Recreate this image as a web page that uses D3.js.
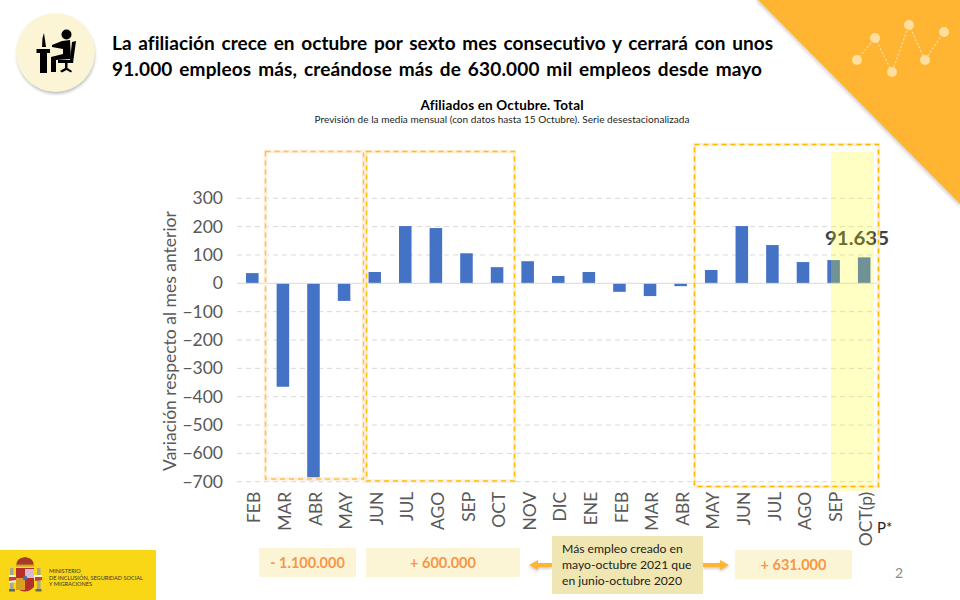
<!DOCTYPE html>
<html>
<head>
<meta charset="utf-8">
<script src="https://cdn.jsdelivr.net/npm/d3@7"></script>
<style>
html, body { margin: 0; padding: 0; background: #fff; }
svg { display: block; }
text { font-family: Lato, "Noto Sans", sans-serif; font-variant-ligatures: none; }
</style>
</head>
<body>
<script>
// chart data, thousands of jobs against previous month
var months = ["FEB","MAR","ABR","MAY","JUN","JUL","AGO","SEP","OCT","NOV","DIC","ENE","FEB","MAR","ABR","MAY","JUN","JUL","AGO","SEP","OCT(p)"];
var values = [36,-365,-695,-62,40,202,195,106,57,78,26,40,-30,-45,-10,47,202,135,75,82,91.635];
var yTicks = [300,200,100,0,-100,-200,-300,-400,-500,-600,-700];

var titleLines = [
    "La afiliación  crece en octubre por sexto mes consecutivo y cerrará con unos",
    "91.000 empleos más, creándose  más de 630.000 mil empleos desde mayo"
];
var noteLines = ["Más empleo creado en", "mayo-octubre 2021 que", "en  junio-octubre 2020"];
var logoLines = ["MINISTERIO", "DE INCLUSIÓN, SEGURIDAD SOCIAL", "Y MIGRACIONES"];
var decoPoints = [[857,60],[875,38],[892,72],[909,25],[925,60],[944,32]];

var width = 960, height = 600;
var margin = {top: 198.3, right: 80.5, bottom: 118.3, left: 237};

var svg = d3.select("body").append("svg")
    .attr("width", width)
    .attr("height", height);

var defs = svg.append("defs");
var blur = defs.append("filter").attr("id", "soft").attr("x", "-20%").attr("y", "-20%").attr("width", "140%").attr("height", "140%");
blur.append("feGaussianBlur").attr("stdDeviation", 1.6);

// top right corner
svg.append("path").attr("d", "M757,0 L960,205").attr("stroke", "#777").attr("stroke-width", 2).attr("opacity", 0.45).attr("filter", "url(#soft)");
svg.append("path").attr("d", "M758,0 L960,0 L960,204 Z").attr("fill", "#FFB531");
svg.append("path")
    .attr("d", d3.line()(decoPoints))
    .attr("fill", "none")
    .attr("stroke", "#FFE0A6")
    .attr("stroke-width", 1.2)
    .attr("stroke-dasharray", "2 2");
svg.selectAll(".deco").data(decoPoints).enter().append("circle")
    .attr("cx", function(d){ return d[0]; })
    .attr("cy", function(d){ return d[1]; })
    .attr("r", 5)
    .attr("fill", "#FFDF9F");

// round icon
svg.append("circle").attr("cx", 56).attr("cy", 55).attr("r", 39).attr("fill", "#888").attr("opacity", 0.55).attr("filter", "url(#soft)");
svg.append("circle").attr("cx", 55.5).attr("cy", 52.5).attr("r", 39.5).attr("fill", "#FBF5D6");
var icon = svg.append("g").attr("fill", "#000");
icon.append("circle").attr("cx", 66.5).attr("cy", 34.5).attr("r", 5);
icon.append("path").attr("d", "M62,41 L70,40 L71,59 L56,60 L56,72 L51,72 L51,57 L63,54 L63,49 L52,47 L52,45 Z");
icon.append("path").attr("d", "M72,42 L76,41 L73,63 L58,63 L58,60 L70,60 Z");
icon.append("path").attr("d", "M65,63 L67.5,63 L67.5,68 L72,71 L71,72.5 L66.5,70 L62,72.5 L60,71 L65,68 Z");
icon.append("path").attr("d", "M36.5,49 L50,49 L50,53 L47,53 L47,73 L40,73 L40,53 L36.5,53 Z");
icon.append("path").attr("d", "M44,33 L46,47 L42,47 L42.5,38 Z");

// title
svg.selectAll(".title").data(titleLines).enter().append("text")
    .attr("x", 112)
    .attr("y", function(d, i){ return 50 + i * 26; })
    .attr("textLength", function(d, i){ return i == 0 ? 661 : 650; })
    .attr("font-size", 19)
    .attr("font-weight", 700)
    .attr("word-spacing", 2)
    .attr("fill", "#000")
    .text(function(d){ return d; });

svg.append("text")
    .attr("x", 502).attr("y", 110)
    .attr("text-anchor", "middle")
    .attr("textLength", 163)
    .attr("font-size", 13.5)
    .attr("font-weight", 700)
    .attr("fill", "#000")
    .text("Afiliados en Octubre. Total");
svg.append("text")
    .attr("x", 502).attr("y", 123)
    .attr("text-anchor", "middle")
    .attr("textLength", 375)
    .attr("font-size", 10)
    .attr("fill", "#222")
    .text("Previsión de la media mensual (con datos hasta 15 Octubre). Serie desestacionalizada");

// set the ranges
var x = d3.scaleBand()
    .domain(d3.range(months.length))
    .range([margin.left, width - margin.right])
    .paddingInner(0.59)
    .paddingOuter(0.295);
var y = d3.scaleLinear()
    .domain([-700, 300])
    .range([height - margin.bottom, margin.top]);

// gridlines
svg.selectAll(".grid").data(yTicks.filter(function(d){ return d != 0; })).enter().append("line")
    .attr("x1", margin.left).attr("x2", width - margin.right)
    .attr("y1", function(d){ return y(d); })
    .attr("y2", function(d){ return y(d); })
    .attr("stroke", "#D9D9D9")
    .attr("stroke-width", 1)
    .attr("stroke-dasharray", "5 4");

// bars
svg.selectAll(".bar").data(values).enter().append("rect")
    .attr("x", function(d, i){ return x(i); })
    .attr("width", x.bandwidth())
    .attr("y", function(d){ return y(Math.max(d, 0)); })
    .attr("height", function(d){ return Math.abs(y(d) - y(0)); })
    .attr("fill", "#4472C4");

svg.append("line")
    .attr("x1", margin.left).attr("x2", width - margin.right)
    .attr("y1", y(0)).attr("y2", y(0))
    .attr("stroke", "#D9D9D9")
    .attr("stroke-width", 1);

// y axis labels
var yAxis = svg.append("g")
    .attr("transform", "translate(" + (margin.left + 1) + ",0)")
    .call(d3.axisLeft(y).tickValues(yTicks).tickSize(0).tickPadding(15).tickFormat(d3.format("d")));
yAxis.select(".domain").remove();
yAxis.selectAll("text")
    .attr("font-size", 17.5)
    .attr("font-family", "Lato, sans-serif")
    .attr("fill", "#595959");

svg.append("text")
    .attr("transform", "translate(176,341) rotate(-90)")
    .attr("text-anchor", "middle")
    .attr("font-size", 17.5)
    .attr("fill", "#595959")
    .text("Variación respecto al mes anterior");

// x axis labels
var xAxis = svg.append("g")
    .attr("transform", "translate(2," + (height - margin.bottom) + ")")
    .call(d3.axisBottom(x).tickSize(0).tickFormat(function(d){ return months[d]; }));
xAxis.select(".domain").remove();
xAxis.selectAll("text")
    .attr("transform", "rotate(-90)")
    .attr("x", -10)
    .attr("y", 0)
    .attr("dy", "0.35em")
    .attr("text-anchor", "end")
    .attr("font-size", 17.5)
    .attr("font-family", "Lato, sans-serif")
    .attr("fill", "#595959");

// value label sits under the highlight
svg.append("text")
    .attr("x", 857).attr("y", 245)
    .attr("text-anchor", "middle")
    .attr("textLength", 64)
    .attr("lengthAdjust", "spacingAndGlyphs")
    .attr("font-size", 19)
    .attr("font-weight", 700)
    .attr("fill", "#404040")
    .text("91.635");

// highlight over last months
svg.append("rect")
    .attr("x", 831).attr("y", 152)
    .attr("width", 43).attr("height", 339)
    .attr("fill", "#FFFF00")
    .attr("opacity", 0.23);

svg.append("text")
    .attr("x", 877).attr("y", 533)
    .attr("font-size", 15)
    .attr("fill", "#222")
    .text("P*");

// dashed boxes
function dashBox(bx, by, bw, bh, color, halo) {
    svg.append("rect").attr("x", bx).attr("y", by).attr("width", bw).attr("height", bh)
        .attr("fill", "none").attr("stroke", halo).attr("stroke-width", 3.5);
    svg.append("rect").attr("x", bx).attr("y", by).attr("width", bw).attr("height", bh)
        .attr("fill", "none").attr("stroke", color).attr("stroke-width", 1.5).attr("stroke-dasharray", "5 4");
}
dashBox(265.5, 151.5, 98, 327.5, "#FFC04D", "#FDF0E2");
dashBox(366.5, 151.5, 148, 329.5, "#FFC000", "#FDF0E2");
dashBox(694.5, 144.5, 184, 342, "#FFB800", "#FDF1D8");

// bottom labels
function valueBox(bx, by, bw, bh, label) {
    svg.append("rect").attr("x", bx).attr("y", by).attr("width", bw).attr("height", bh).attr("fill", "#FBF5D6");
    svg.append("text")
        .attr("x", bx + bw / 2).attr("y", by + bh / 2 + 5)
        .attr("text-anchor", "middle")
        .attr("font-size", 14.5)
        .attr("font-weight", 700)
        .attr("fill", "#F79646")
        .text(label);
}
valueBox(259, 548, 97, 29, "- 1.100.000");
valueBox(366, 548, 154, 29, "+ 600.000");
valueBox(735, 550, 117, 29, "+ 631.000");

// arrows around the note
function arrow(x1, x2, yy) {
    var dir = x2 > x1 ? 1 : -1;
    var d = "M" + x1 + "," + (yy - 2) + " L" + (x2 - dir * 9) + "," + (yy - 2) + " L" + (x2 - dir * 9) + "," + (yy - 5) +
        " L" + x2 + "," + yy + " L" + (x2 - dir * 9) + "," + (yy + 5) + " L" + (x2 - dir * 9) + "," + (yy + 2) + " L" + x1 + "," + (yy + 2) + " Z";
    svg.append("path").attr("d", d).attr("fill", "#888").attr("opacity", 0.5)
        .attr("transform", "translate(0,1.5)").attr("filter", "url(#soft)");
    svg.append("path").attr("d", d).attr("fill", "#FFB531");
}
arrow(552, 529, 565);
arrow(703, 729, 565);

svg.append("rect").attr("x", 552).attr("y", 536).attr("width", 151).attr("height", 58).attr("fill", "#F0E6B2");
svg.selectAll(".note").data(noteLines).enter().append("text")
    .attr("x", 562)
    .attr("y", function(d, i){ return 553 + i * 16; })
    .attr("font-size", 12.2)
    .attr("fill", "#222")
    .text(function(d){ return d; });

svg.append("text")
    .attr("x", 895).attr("y", 578)
    .attr("font-size", 14)
    .attr("fill", "#8C8C8C")
    .text("2");

// ministry logo
svg.append("rect").attr("x", 0).attr("y", 550).attr("width", 156).attr("height", 50).attr("fill", "#F9D616");
var arms = svg.append("g");
arms.append("rect").attr("x", 10).attr("y", 568).attr("width", 3.5).attr("height", 22).attr("fill", "#A8A890");
arms.append("rect").attr("x", 37).attr("y", 568).attr("width", 3.5).attr("height", 22).attr("fill", "#A8A890");
arms.append("rect").attr("x", 9).attr("y", 589).attr("width", 6).attr("height", 2.5).attr("fill", "#6B6B50");
arms.append("rect").attr("x", 35.5).attr("y", 589).attr("width", 6).attr("height", 2.5).attr("fill", "#6B6B50");
arms.append("path").attr("d", "M9,575 L42,575 L42,579 L9,583 Z").attr("fill", "#F4EFE0");
arms.append("path").attr("d", "M9,577 L16,577 L16,580 L9,581 Z M35,577 L42,577 L42,580 L35,581 Z").attr("fill", "#C8402A");
arms.append("path").attr("d", "M16,568 L34,568 L34,587 Q25,596 16,587 Z").attr("fill", "#B5302A");
arms.append("rect").attr("x", 25).attr("y", 569).attr("width", 9).attr("height", 9).attr("fill", "#D9B8D4");
arms.append("rect").attr("x", 16).attr("y", 578).attr("width", 9).attr("height", 12).attr("fill", "#D9A020");
arms.append("circle").attr("cx", 25).attr("cy", 578).attr("r", 2.2).attr("fill", "#4A6FA8");
arms.append("path").attr("d", "M16,566 Q16,558 25,557 Q34,558 34,566 Z").attr("fill", "#A83A2A");
arms.append("rect").attr("x", 16).attr("y", 564.5).attr("width", 18).attr("height", 2).attr("fill", "#C9A227");
logoLines.forEach(function(t, i) {
    svg.append("text")
        .attr("x", 49).attr("y", 573 + i * 6.6)
        .attr("font-size", 5.6)
        .attr("fill", "#333")
        .text(t);
});
</script>
</body>
</html>
